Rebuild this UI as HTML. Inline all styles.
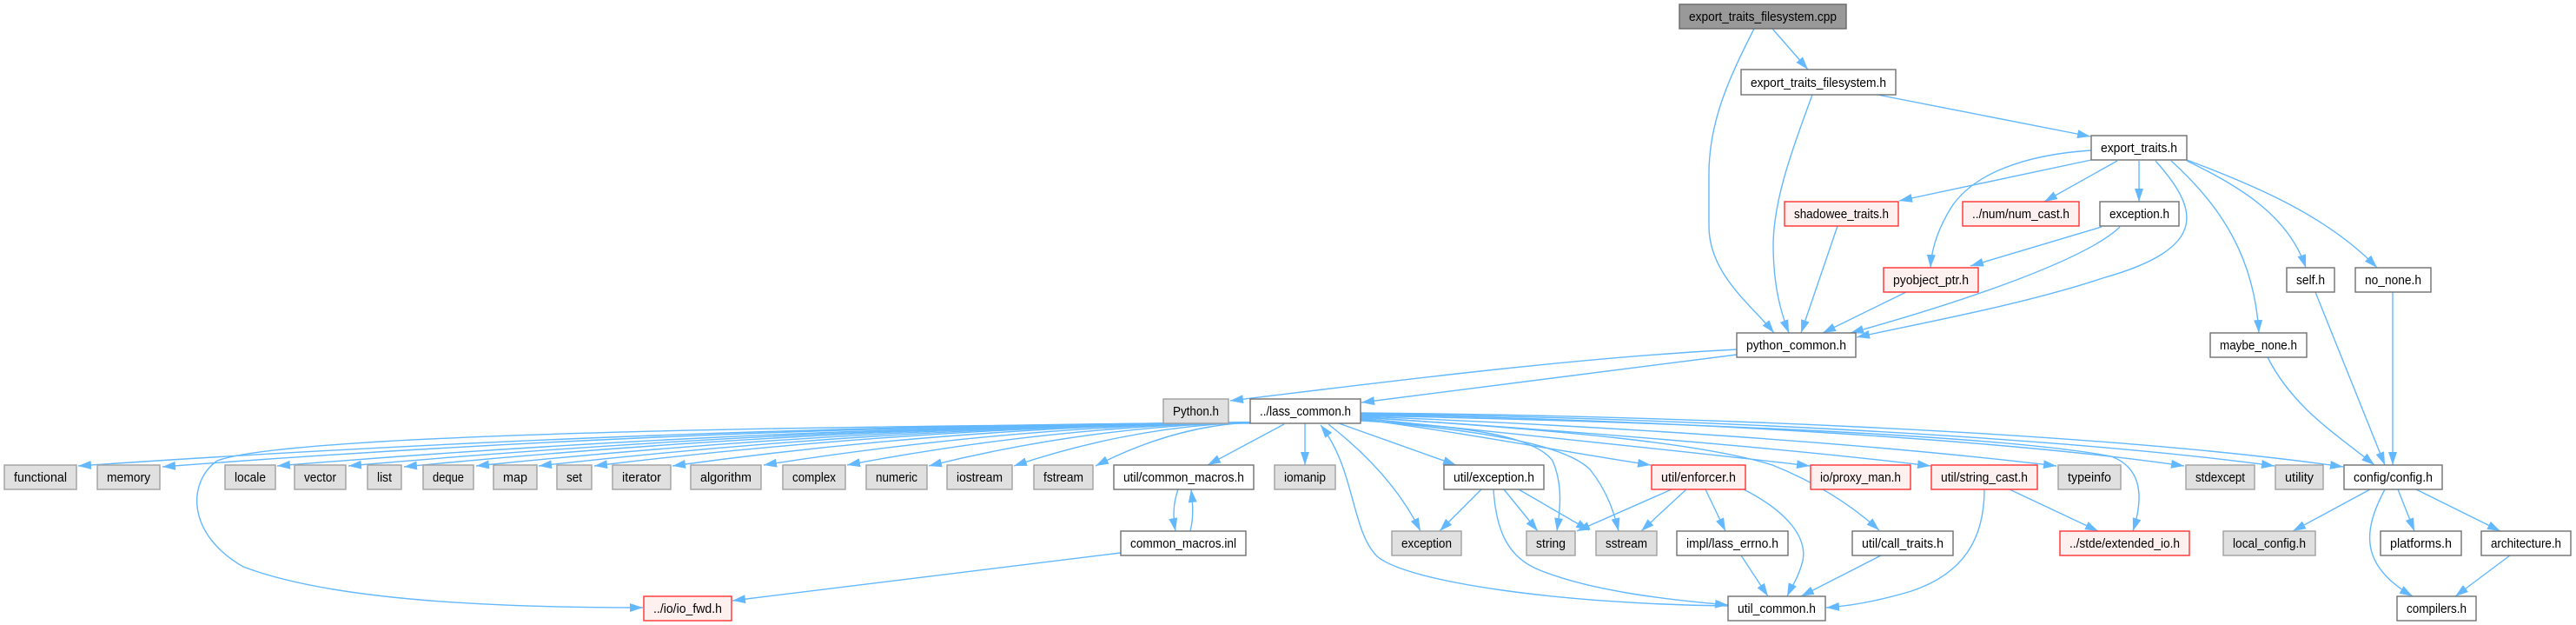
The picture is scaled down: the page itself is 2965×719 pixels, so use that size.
<!DOCTYPE html>
<html><head><meta charset="utf-8"><style>
html,body{margin:0;padding:0;background:#fff;}
svg{display:block;}
text{font-family:"Liberation Sans",sans-serif;font-size:15px;fill:#000;}
.e{fill:none;stroke:#63b8ff;stroke-width:1.4;marker-end:url(#a);}
.w{fill:#fff;stroke:#707070;stroke-width:1.4;}
.g{fill:#e0e0e0;stroke:#a0a0a0;stroke-width:1.4;}
.r{fill:#fff0f0;stroke:#ff3030;stroke-width:1.4;}
.k{fill:#999;stroke:#666;stroke-width:1.4;}
</style></head><body>
<svg width="2965" height="719" viewBox="0 0 2965 719" xmlns="http://www.w3.org/2000/svg">
<defs><marker id="a" markerWidth="15" markerHeight="10" refX="15" refY="5" orient="auto" markerUnits="userSpaceOnUse"><path d="M0,0 L15,5 L0,10 z" fill="#63b8ff"/></marker></defs>
<rect width="2965" height="719" fill="#fff"/>
<g>
<path class="e" d="M2040,33 L2081,80"/>
<path class="e" d="M2019,33 C1990,90 1967,140 1967,200 L1967,260 C1967,315 2015,350 2042,383"/>
<path class="e" d="M2161,109 L2406,157"/>
<path class="e" d="M2086,109 C2060,180 2042,230 2041,280 C2041,330 2050,360 2059,383"/>
<path class="e" d="M2407,184 L2186,231"/>
<path class="e" d="M2407,173 C2330,178 2270,200 2245,240 C2228,268 2223,290 2222,308"/>
<path class="e" d="M2437,185 L2353,232"/>
<path class="e" d="M2462,185 L2462,232"/>
<path class="e" d="M2481,185 C2530,240 2545,285 2420,320 C2330,350 2210,372 2137,388"/>
<path class="e" d="M2499,185 C2560,240 2595,300 2600,383"/>
<path class="e" d="M2517,185 C2580,215 2635,250 2654,308"/>
<path class="e" d="M2517,184 C2600,215 2680,250 2736,308"/>
<path class="e" d="M2115,260 L2073,383"/>
<path class="e" d="M2419,261 L2268,306"/>
<path class="e" d="M2440,261 C2400,300 2250,350 2130,383"/>
<path class="e" d="M2194,336 L2098,383"/>
<path class="e" d="M2665,336 L2745,535"/>
<path class="e" d="M2754,336 L2754,535"/>
<path class="e" d="M2610,411 C2640,470 2690,500 2733,535"/>
<path class="e" d="M1999,402 C1800,412 1550,445 1416,461"/>
<path class="e" d="M1999,408 L1567,463"/>
<path class="e" d="M2728,563 L2639,611"/>
<path class="e" d="M2760,563 L2779,611"/>
<path class="e" d="M2781,563 L2878,611"/>
<path class="e" d="M2745,563 C2720,610 2715,650 2777,686"/>
<path class="e" d="M2889,639 L2826,686"/>
<path class="e" d="M1440,486 C900,489 427,513 90,536"/>
<path class="e" d="M1440,486 C939,489 500,513 187,537"/>
<path class="e" d="M1440,486 C992,489 599,513 319,536"/>
<path class="e" d="M1440,486 C1024,489 661,513 401,536"/>
<path class="e" d="M1440,486 C1050,489 709,513 465,537"/>
<path class="e" d="M1440,486 C1083,489 771,513 548,536"/>
<path class="e" d="M1440,486 C1112,489 825,513 620,536"/>
<path class="e" d="M1440,486 C1138,489 873,513 684,536"/>
<path class="e" d="M1440,486 C1174,489 940,513 774,536"/>
<path class="e" d="M1440,486 C1216,489 1019,513 879,535"/>
<path class="e" d="M1440,486 C1254,489 1091,513 975,535"/>
<path class="e" d="M1440,486 C1292,489 1162,513 1069,536"/>
<path class="e" d="M1440,486 C1331,489 1235,513 1167,536"/>
<path class="e" d="M1440,486 C1368,489 1306,513 1261,536"/>
<path class="e" d="M1478,488 L1390,535"/>
<path class="e" d="M1502,487 L1502,535"/>
<path class="e" d="M1529,488 C1570,520 1610,560 1635,611"/>
<path class="e" d="M1541,487 L1676,535"/>
<path class="e" d="M1566,484 C1680,490 1765,500 1787,530 C1800,560 1795,590 1792,611"/>
<path class="e" d="M1566,483 C1700,495 1800,510 1830,540 C1850,565 1858,590 1863,611"/>
<path class="e" d="M1566,482 C1700,500 1800,520 1900,535"/>
<path class="e" d="M1566,481 C1750,500 1950,520 2083,536"/>
<path class="e" d="M1566,480 C1800,495 1960,510 2040,535 C2090,555 2130,580 2163,610"/>
<path class="e" d="M1566,480 C1800,495 2050,515 2222,536"/>
<path class="e" d="M1566,479 C1850,490 2150,510 2367,536"/>
<path class="e" d="M1566,478 C1900,485 2300,500 2430,525 C2470,540 2465,580 2455,611"/>
<path class="e" d="M1566,477 C1900,482 2300,505 2514,536"/>
<path class="e" d="M1566,476 C1900,480 2350,500 2618,536"/>
<path class="e" d="M1566,475 C1900,478 2400,495 2697,537"/>
<path class="e" d="M1439,487 C900,490 330,500 250,530 C215,555 215,615 280,652 C380,690 560,699 740,699"/>
<path class="e" d="M1989,697 C1800,695 1620,670 1585,640 C1555,610 1560,540 1520,489"/>
<path class="e" d="M1356,563 C1350,580 1350,595 1353,611"/>
<path class="e" d="M1370,611 C1374,595 1373,580 1371,563"/>
<path class="e" d="M1290,636 L843,691"/>
<path class="e" d="M1705,563 L1657,611"/>
<path class="e" d="M1731,563 L1770,611"/>
<path class="e" d="M1748,563 L1829,610"/>
<path class="e" d="M1719,563 C1722,610 1735,640 1770,655 C1830,680 1920,690 1989,696"/>
<path class="e" d="M1924,563 L1815,611"/>
<path class="e" d="M1941,563 L1889,611"/>
<path class="e" d="M1963,563 L1986,611"/>
<path class="e" d="M2007,563 C2060,590 2080,620 2075,645 C2070,665 2062,675 2057,686"/>
<path class="e" d="M2004,639 L2035,686"/>
<path class="e" d="M2165,639 L2073,686"/>
<path class="e" d="M2284,563 C2284,620 2260,660 2200,680 C2160,692 2130,697 2102,699"/>
<path class="e" d="M2313,563 L2415,611"/>
</g>
<g text-anchor="middle">
<rect class="k" x="1933" y="5" width="192" height="28"/><text x="2029" y="24" textLength="170" lengthAdjust="spacingAndGlyphs">export_traits_filesystem.cpp</text>
<rect class="w" x="2004" y="80" width="178" height="29"/><text x="2093" y="100" textLength="156" lengthAdjust="spacingAndGlyphs">export_traits_filesystem.h</text>
<rect class="w" x="2407" y="156" width="110" height="28"/><text x="2462" y="175" textLength="88" lengthAdjust="spacingAndGlyphs">export_traits.h</text>
<rect class="r" x="2054" y="232" width="131" height="28"/><text x="2119.5" y="251" textLength="109" lengthAdjust="spacingAndGlyphs">shadowee_traits.h</text>
<rect class="r" x="2259" y="232" width="134" height="28"/><text x="2326" y="251" textLength="112" lengthAdjust="spacingAndGlyphs">../num/num_cast.h</text>
<rect class="w" x="2417" y="232" width="91" height="28"/><text x="2462.5" y="251" textLength="69" lengthAdjust="spacingAndGlyphs">exception.h</text>
<rect class="r" x="2168" y="308" width="109" height="28"/><text x="2222.5" y="327" textLength="87" lengthAdjust="spacingAndGlyphs">pyobject_ptr.h</text>
<rect class="w" x="2632" y="308" width="55" height="28"/><text x="2659.5" y="327" textLength="33" lengthAdjust="spacingAndGlyphs">self.h</text>
<rect class="w" x="2711" y="308" width="87" height="28"/><text x="2754.5" y="327" textLength="65" lengthAdjust="spacingAndGlyphs">no_none.h</text>
<rect class="w" x="1999" y="383" width="137" height="28"/><text x="2067.5" y="402" textLength="115" lengthAdjust="spacingAndGlyphs">python_common.h</text>
<rect class="w" x="2544" y="383" width="111" height="28"/><text x="2599.5" y="402" textLength="89" lengthAdjust="spacingAndGlyphs">maybe_none.h</text>
<rect class="g" x="1339" y="459" width="75" height="28"/><text x="1376.5" y="478" textLength="53" lengthAdjust="spacingAndGlyphs">Python.h</text>
<rect class="w" x="1439" y="459" width="127" height="28"/><text x="1502.5" y="478" textLength="105" lengthAdjust="spacingAndGlyphs">../lass_common.h</text>

<rect class="g" x="5" y="535" width="83" height="28"/><text x="46.5" y="554" textLength="61" lengthAdjust="spacingAndGlyphs">functional</text>
<rect class="g" x="112" y="535" width="72" height="28"/><text x="148" y="554" textLength="50" lengthAdjust="spacingAndGlyphs">memory</text>
<rect class="g" x="259" y="535" width="58" height="28"/><text x="288" y="554" textLength="36" lengthAdjust="spacingAndGlyphs">locale</text>
<rect class="g" x="339" y="535" width="59" height="28"/><text x="368.5" y="554" textLength="37" lengthAdjust="spacingAndGlyphs">vector</text>
<rect class="g" x="423" y="535" width="39" height="28"/><text x="442.5" y="554" textLength="17" lengthAdjust="spacingAndGlyphs">list</text>
<rect class="g" x="487" y="535" width="58" height="28"/><text x="516" y="554" textLength="36" lengthAdjust="spacingAndGlyphs">deque</text>
<rect class="g" x="568" y="535" width="50" height="28"/><text x="593" y="554" textLength="28" lengthAdjust="spacingAndGlyphs">map</text>
<rect class="g" x="641" y="535" width="40" height="28"/><text x="661" y="554" textLength="18" lengthAdjust="spacingAndGlyphs">set</text>
<rect class="g" x="705" y="535" width="67" height="28"/><text x="738.5" y="554" textLength="45" lengthAdjust="spacingAndGlyphs">iterator</text>
<rect class="g" x="795" y="535" width="81" height="28"/><text x="835.5" y="554" textLength="59" lengthAdjust="spacingAndGlyphs">algorithm</text>
<rect class="g" x="901" y="535" width="72" height="28"/><text x="937" y="554" textLength="50" lengthAdjust="spacingAndGlyphs">complex</text>
<rect class="g" x="997" y="535" width="70" height="28"/><text x="1032" y="554" textLength="48" lengthAdjust="spacingAndGlyphs">numeric</text>
<rect class="g" x="1090" y="535" width="75" height="28"/><text x="1127.5" y="554" textLength="53" lengthAdjust="spacingAndGlyphs">iostream</text>
<rect class="g" x="1190" y="535" width="68" height="28"/><text x="1224" y="554" textLength="46" lengthAdjust="spacingAndGlyphs">fstream</text>
<rect class="w" x="1282" y="535" width="161" height="28"/><text x="1362.5" y="554" textLength="139" lengthAdjust="spacingAndGlyphs">util/common_macros.h</text>
<rect class="g" x="1467" y="535" width="70" height="28"/><text x="1502" y="554" textLength="48" lengthAdjust="spacingAndGlyphs">iomanip</text>
<rect class="w" x="1662" y="535" width="115" height="28"/><text x="1719.5" y="554" textLength="93" lengthAdjust="spacingAndGlyphs">util/exception.h</text>
<rect class="r" x="1901" y="535" width="108" height="28"/><text x="1955" y="554" textLength="86" lengthAdjust="spacingAndGlyphs">util/enforcer.h</text>
<rect class="r" x="2084" y="535" width="115" height="28"/><text x="2141.5" y="554" textLength="93" lengthAdjust="spacingAndGlyphs">io/proxy_man.h</text>
<rect class="r" x="2223" y="535" width="122" height="28"/><text x="2284" y="554" textLength="100" lengthAdjust="spacingAndGlyphs">util/string_cast.h</text>
<rect class="g" x="2369" y="535" width="72" height="28"/><text x="2405" y="554" textLength="50" lengthAdjust="spacingAndGlyphs">typeinfo</text>
<rect class="g" x="2516" y="535" width="79" height="28"/><text x="2555.5" y="554" textLength="57" lengthAdjust="spacingAndGlyphs">stdexcept</text>
<rect class="g" x="2619" y="535" width="55" height="28"/><text x="2646.5" y="554" textLength="33" lengthAdjust="spacingAndGlyphs">utility</text>
<rect class="w" x="2698" y="535" width="113" height="28"/><text x="2754.5" y="554" textLength="91" lengthAdjust="spacingAndGlyphs">config/config.h</text>

<rect class="w" x="1290" y="611" width="144" height="28"/><text x="1362" y="630" textLength="122" lengthAdjust="spacingAndGlyphs">common_macros.inl</text>
<rect class="g" x="1602" y="611" width="80" height="28"/><text x="1642" y="630" textLength="58" lengthAdjust="spacingAndGlyphs">exception</text>
<rect class="g" x="1757" y="611" width="56" height="28"/><text x="1785" y="630" textLength="34" lengthAdjust="spacingAndGlyphs">string</text>
<rect class="g" x="1837" y="611" width="70" height="28"/><text x="1872" y="630" textLength="48" lengthAdjust="spacingAndGlyphs">sstream</text>
<rect class="w" x="1930" y="611" width="128" height="28"/><text x="1994" y="630" textLength="106" lengthAdjust="spacingAndGlyphs">impl/lass_errno.h</text>
<rect class="w" x="2132" y="611" width="116" height="28"/><text x="2190" y="630" textLength="94" lengthAdjust="spacingAndGlyphs">util/call_traits.h</text>
<rect class="r" x="2371" y="611" width="149" height="28"/><text x="2445.5" y="630" textLength="127" lengthAdjust="spacingAndGlyphs">../stde/extended_io.h</text>
<rect class="g" x="2559" y="611" width="106" height="28"/><text x="2612" y="630" textLength="84" lengthAdjust="spacingAndGlyphs">local_config.h</text>
<rect class="w" x="2740" y="611" width="93" height="28"/><text x="2786.5" y="630" textLength="71" lengthAdjust="spacingAndGlyphs">platforms.h</text>
<rect class="w" x="2856" y="611" width="103" height="28"/><text x="2907.5" y="630" textLength="81" lengthAdjust="spacingAndGlyphs">architecture.h</text>

<rect class="r" x="741" y="686" width="101" height="28"/><text x="791.5" y="705" textLength="79" lengthAdjust="spacingAndGlyphs">../io/io_fwd.h</text>
<rect class="w" x="1989" y="686" width="112" height="28"/><text x="2045" y="705" textLength="90" lengthAdjust="spacingAndGlyphs">util_common.h</text>
<rect class="w" x="2759" y="686" width="91" height="28"/><text x="2804.5" y="705" textLength="69" lengthAdjust="spacingAndGlyphs">compilers.h</text>
</g>
</svg>
</body></html>
